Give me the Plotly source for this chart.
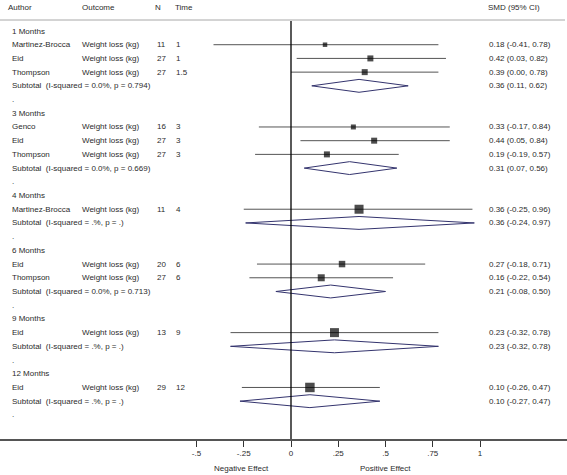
import plotly.graph_objects as go

# ---------------- data ----------------
groups = ["1 Months", "3 Months", "4 Months", "6 Months", "9 Months", "12 Months"]
study_group = [0, 0, 0, 1, 1, 1, 2, 3, 3, 4, 5]
authors = ["Martinez-Brocca", "Eid", "Thompson", "Genco", "Eid", "Thompson",
           "Martinez-Brocca", "Eid", "Thompson", "Eid", "Eid"]
outcomes = ["Weight loss (kg)"] * 11
n_values = [11, 27, 27, 16, 27, 27, 11, 20, 27, 13, 29]
time_values = ["1", "1", "1.5", "3", "3", "3", "4", "6", "6", "9", "12"]
smd = [0.18, 0.42, 0.39, 0.33, 0.44, 0.19, 0.36, 0.27, 0.16, 0.23, 0.10]
ci_low = [-0.41, 0.03, 0.00, -0.17, 0.05, -0.19, -0.25, -0.18, -0.22, -0.32, -0.26]
ci_high = [0.78, 0.82, 0.78, 0.84, 0.84, 0.57, 0.96, 0.71, 0.54, 0.78, 0.47]
weights = [20, 36, 36, 25, 36, 36, 81, 42, 49, 81, 90]  # relative (box area)

sub_smd = [0.36, 0.31, 0.36, 0.21, 0.23, 0.10]
sub_low = [0.11, 0.07, -0.24, -0.08, -0.32, -0.27]
sub_high = [0.62, 0.56, 0.97, 0.50, 0.78, 0.47]
sub_i2 = ["0.0%", "0.0%", ".%", "0.0%", ".%", ".%"]
sub_p = ["0.794", "0.669", ".", "0.713", ".", "."]

tick_values = [-0.5, -0.25, 0, 0.25, 0.5, 0.75, 1]
tick_labels = ["-.5", "-.25", "0", ".25", ".5", ".75", "1"]
header_labels = ["Author", "Outcome", "N", "Time", "SMD (95% CI)"]

# ---------------- layout helpers ----------------
W, H = 567, 475
BOTTOM = 36
PLOT_H = H - BOTTOM
ROW0_PX, ROW_STEP = 31.0, 13.71
X0_PX, X_SCALE = 291.0, 189.0


def row_of_px(py):
    return (py - ROW0_PX) / ROW_STEP


def xpaper(px):
    return px / W


FONT = "Liberation Sans, Arial, Helvetica, sans-serif"
TXT = "#2b2b2b"
FS = 8

# ---------------- build rows ----------------
annotations = []


def add_text(px, row, text, size=FS, anchor="left"):
    annotations.append(dict(x=xpaper(px), xref="paper", y=row, yref="y",
                            text=text, showarrow=False, xanchor=anchor,
                            yanchor="middle", font=dict(family=FONT, size=size, color=TXT)))


header_row = row_of_px(7)
for lab, px in zip(header_labels, [6, 80, 153, 173, 486]):
    add_text(px, header_row, lab)

ci_x, ci_y = [], []
box_x, box_y, box_s = [], [], []
dia_x, dia_y = [], []
row = 0
for g, gname in enumerate(groups):
    add_text(10, row, gname)
    row += 1
    for i in range(len(authors)):
        if study_group[i] != g:
            continue
        add_text(10, row, authors[i])
        add_text(80, row, outcomes[i])
        add_text(155, row, str(n_values[i]))
        add_text(174, row, time_values[i])
        add_text(487, row, f"{smd[i]:.2f} ({ci_low[i]:.2f}, {ci_high[i]:.2f})")
        ci_x += [ci_low[i], ci_high[i], None]
        ci_y += [row, row, None]
        box_x.append(smd[i])
        box_y.append(row)
        box_s.append(weights[i] ** 0.5)
        row += 1
    add_text(10, row, f"Subtotal\u00a0 (I-squared = {sub_i2[g]}, p = {sub_p[g]})")
    add_text(487, row, f"{sub_smd[g]:.2f} ({sub_low[g]:.2f}, {sub_high[g]:.2f})")
    hh = 0.47
    dia_x += [sub_low[g], sub_smd[g], sub_high[g], sub_smd[g], sub_low[g], None]
    dia_y += [row, row - hh, row, row + hh, row, None]
    row += 1
    add_text(10, row, ".")
    row += 1

fig = go.Figure()
fig.add_trace(go.Scatter(x=ci_x, y=ci_y, mode="lines",
                         line=dict(color="#555555", width=1), hoverinfo="skip"))
fig.add_trace(go.Scatter(x=dia_x, y=dia_y, mode="lines", fill="toself",
                         fillcolor="white", line=dict(color="#34346e", width=1),
                         hoverinfo="skip"))
fig.add_trace(go.Scatter(x=box_x, y=box_y, mode="markers",
                         marker=dict(symbol="square", color="black", size=box_s,
                                     line=dict(width=0)), hoverinfo="skip"))

bottom_row = row_of_px(PLOT_H)
top_row = row_of_px(0)

shapes = [
    dict(type="line", xref="paper", yref="y", x0=0, x1=xpaper(565),
         y0=row_of_px(20), y1=row_of_px(20), line=dict(color="#a8a8a8", width=1)),
    dict(type="line", xref="x", yref="y", x0=0, x1=0,
         y0=row_of_px(21), y1=bottom_row, line=dict(color="black", width=1.3)),
]

annotations.append(dict(x=-0.26, xref="x", y=-(469 - PLOT_H) / PLOT_H, yref="paper",
                        text="Negative Effect", showarrow=False, xanchor="center",
                        yanchor="middle", font=dict(family=FONT, size=FS, color=TXT)))
annotations.append(dict(x=0.5, xref="x", y=-(469 - PLOT_H) / PLOT_H, yref="paper",
                        text="Positive Effect", showarrow=False, xanchor="center",
                        yanchor="middle", font=dict(family=FONT, size=FS, color=TXT)))

fig.update_layout(
    width=W, height=H,
    margin=dict(l=0, r=0, t=0, b=BOTTOM),
    paper_bgcolor="white", plot_bgcolor="white",
    showlegend=False,
    hovermode=False,
    shapes=shapes,
    annotations=annotations,
    xaxis=dict(range=[-X0_PX / X_SCALE, (W - X0_PX) / X_SCALE],
               showgrid=False, zeroline=False, showline=True,
               linecolor="#555555", linewidth=1.5,
               ticks="outside", ticklen=6, tickwidth=1.2, tickcolor="#333333",
               tickvals=tick_values, ticktext=tick_labels,
               tickfont=dict(family=FONT, size=FS, color=TXT)),
    yaxis=dict(range=[bottom_row, top_row], visible=False, showgrid=False, zeroline=False),
)

fig.write_html("out.html", config={"displayModeBar": False},
               post_script="document.body.style.margin='0';document.body.style.overflow='hidden';")
